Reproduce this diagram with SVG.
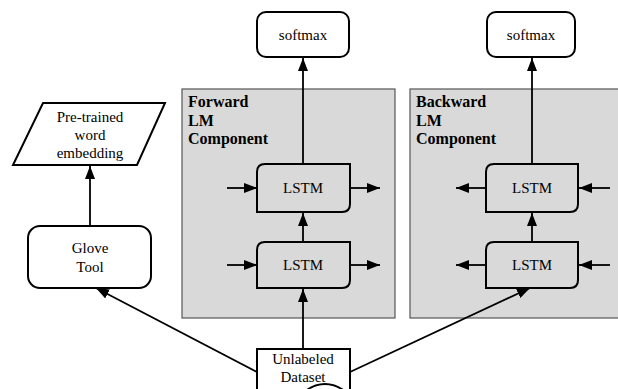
<svg xmlns="http://www.w3.org/2000/svg" width="618" height="389" viewBox="0 0 618 389">
  <style>
    .box { fill: #ffffff; stroke: #000; stroke-width: 2; }
    .cell { fill: #d9d9d9; stroke: #000; stroke-width: 2; }
    .panel { fill: #d9d9d9; stroke: #555; stroke-width: 1.2; }
    .lbl { font-family: "Liberation Serif", "Times New Roman", serif; font-size: 15px; fill: #000; text-anchor: middle; }
    .title { font-family: "Liberation Serif", "Times New Roman", serif; font-size: 16px; font-weight: bold; fill: #000; }
    .edge { stroke: #000; stroke-width: 1.8; fill: none; marker-end: url(#tip); }
  </style>
  <defs>
    <marker id="tip" viewBox="0 0 13 10" refX="13" refY="5" markerWidth="13" markerHeight="10" markerUnits="userSpaceOnUse" orient="auto">
      <path d="M0,0 L13,5 L0,10 Z" fill="#000"/>
    </marker>
  </defs>

  <!-- language model panels -->
  <g id="forward-panel">
    <rect class="panel" x="182" y="89" width="213" height="229"/>
    <text class="title" x="188" y="107">Forward</text>
    <text class="title" x="188" y="126">LM</text>
    <text class="title" x="188" y="144">Component</text>
  </g>
  <g id="backward-panel">
    <rect class="panel" x="410" y="89" width="212" height="229"/>
    <text class="title" x="416" y="107">Backward</text>
    <text class="title" x="416" y="126">LM</text>
    <text class="title" x="416" y="144">Component</text>
  </g>

  <g id="connectors">
    <!-- embedding pipeline -->
    <line class="edge" x1="90" y1="226" x2="90" y2="166"/>
    <line class="edge" x1="257" y1="372" x2="96" y2="288"/>
    <line class="edge" x1="350" y1="372" x2="530" y2="288"/>
    <!-- forward stack -->
    <line class="edge" x1="303" y1="349" x2="303" y2="289"/>
    <line class="edge" x1="303" y1="242" x2="303" y2="213"/>
    <line class="edge" x1="303" y1="164" x2="303" y2="58"/>
    <line class="edge" x1="227" y1="188" x2="257" y2="188"/>
    <line class="edge" x1="350" y1="188" x2="380" y2="188"/>
    <line class="edge" x1="227" y1="265" x2="257" y2="265"/>
    <line class="edge" x1="350" y1="265" x2="380" y2="265"/>
    <!-- backward stack -->
    <line class="edge" x1="532" y1="242" x2="532" y2="213"/>
    <line class="edge" x1="532" y1="164" x2="532" y2="58"/>
    <line class="edge" x1="486" y1="188" x2="456" y2="188"/>
    <line class="edge" x1="610" y1="188" x2="579" y2="188"/>
    <line class="edge" x1="486" y1="265" x2="456" y2="265"/>
    <line class="edge" x1="610" y1="265" x2="579" y2="265"/>
  </g>

  <g id="embedding">
    <polygon class="box" points="43,103 165,103 137,165 13,165"/>
    <text class="lbl" x="90" y="122">Pre-trained</text>
    <text class="lbl" x="90" y="140">word</text>
    <text class="lbl" x="90" y="158">embedding</text>
  </g>

  <g id="glove">
    <rect class="box" x="28" y="226" width="123" height="62" rx="12"/>
    <text class="lbl" x="90" y="253">Glove</text>
    <text class="lbl" x="90" y="272">Tool</text>
  </g>

  <g id="softmax-fwd">
    <rect class="box" x="257" y="12" width="92" height="45" rx="9"/>
    <text class="lbl" x="303" y="40">softmax</text>
  </g>
  <g id="softmax-bwd">
    <rect class="box" x="487" y="12" width="88" height="45" rx="9"/>
    <text class="lbl" x="531" y="40">softmax</text>
  </g>

  <g id="lstm-fwd-top">
    <path class="cell" d="M265,164 H350 V204 Q350,212 342,212 H257 V172 Q257,164 265,164 Z"/>
    <text class="lbl" x="303" y="193">LSTM</text>
  </g>
  <g id="lstm-fwd-bottom">
    <path class="cell" d="M265,242 H350 V280 Q350,288 342,288 H257 V250 Q257,242 265,242 Z"/>
    <text class="lbl" x="303" y="270">LSTM</text>
  </g>
  <g id="lstm-bwd-top">
    <path class="cell" d="M494,164 H578 V204 Q578,212 570,212 H486 V172 Q486,164 494,164 Z"/>
    <text class="lbl" x="532" y="193">LSTM</text>
  </g>
  <g id="lstm-bwd-bottom">
    <path class="cell" d="M494,242 H578 V280 Q578,288 570,288 H486 V250 Q486,242 494,242 Z"/>
    <text class="lbl" x="532" y="270">LSTM</text>
  </g>

  <g id="dataset">
    <path class="box" d="M257,349 H350 V396 C335,380 315,380 300,396 C285,410 270,410 257,400 Z"/>
    <text class="lbl" x="303" y="364">Unlabeled</text>
    <text class="lbl" x="303" y="382">Dataset</text>
  </g>
</svg>
